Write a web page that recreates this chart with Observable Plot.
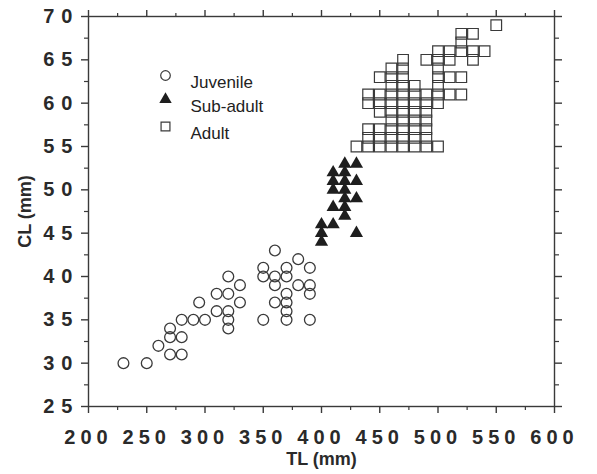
<!DOCTYPE html>
<html><head><meta charset="utf-8">
<script src="https://cdn.jsdelivr.net/npm/d3@7"></script>
<script src="https://cdn.jsdelivr.net/npm/@observablehq/plot@0.6"></script>
<style>
body{margin:0;background:#fff;}
#chart svg{font-family:"Liberation Sans",Arial,sans-serif;}
g[aria-label="x-axis tick label"] text{letter-spacing:5px;}
g[aria-label="y-axis tick label"] text{letter-spacing:7px;}
</style></head><body><div id="chart"></div>
<script>
// Juvenile
const juvenileTL = [230,250,260,270,270,270,280,280,280,290,300,295,310,310,320,320,320,320,320,330,330,350,350,350,360,360,360,360,370,370,370,370,370,370,380,380,390,390,390,390];
const juvenileCL = [30,30,32,34,33,31,33,31,35,35,35,37,38,36,40,38,36,35,34,39,37,35,41,40,43,40,39,37,41,40,38,37,36,35,42,39,41,39,38,35];
// Sub-adult
const subadultTL = [420,430,410,420,410,420,430,410,420,420,430,410,420,420,400,410,400,430,400];
const subadultCL = [53,53,52,52,51,51,51,50,50,49,49,48,48,47,46,46,45,45,44];
// Adult
const adultTL = [550,
  520,530,
  520,
  500,510,520,530,540,
  470,490,500,510,530,
  460,470,500,
  450,460,470,500,510,520,
  460,470,480,500,
  440,450,460,470,480,490,500,510,520,
  440,450,460,470,480,490,500,
  450,460,470,480,490,
  460,470,480,490,
  440,450,460,470,480,490,
  440,450,460,470,480,490,
  430,440,450,460,470,480,490,500];
const adultCL = [69,
  68,68,
  67,
  66,66,66,66,66,
  65,65,65,65,65,
  64,64,64,
  63,63,63,63,63,63,
  62,62,62,62,
  61,61,61,61,61,61,61,61,61,
  60,60,60,60,60,60,60,
  59,59,59,59,59,
  58,58,58,58,
  57,57,57,57,57,57,
  56,56,56,56,56,56,
  55,55,55,55,55,55,55,55];

const xDomain = [200, 600];
const yDomain = [25, 70];
const xMajor = [200,250,300,350,400,450,500,550,600];
const xMinor = [225,275,325,375,425,475,525,575];
const yMajor = [25,30,35,40,45,50,55,60,65,70];
const yMinor = [27.5,32.5,37.5,42.5,47.5,52.5,57.5,62.5,67.5];
const legendLabels = ["Juvenile","Sub-adult","Adult"];

const toRows = (tl, cl, group) => tl.map((t, i) => ({TL: t, CL: cl[i], group}));
const juvenile = toRows(juvenileTL, juvenileCL, legendLabels[0]);
const subadult = toRows(subadultTL, subadultCL, legendLabels[1]);
const adult = toRows(adultTL, adultCL, legendLabels[2]);

const ink = "#3a3a3a";
const fmt = d => String(d);

const legendMarks = [];
const legendSymbols = [
  {symbol: "circle", fill: "none", stroke: ink, r: 4.8},
  {symbol: "triangle", fill: "#1e1e1e", stroke: "none", r: 4.6},
  {symbol: "square", fill: "none", stroke: ink, r: 5.0}
];
const legendDy = [59, 83, 110];
legendLabels.forEach((lab, i) => {
  legendMarks.push(Plot.dot([lab], {frameAnchor: "top-left", dx: 77, dy: legendDy[i], symbol: legendSymbols[i].symbol, r: legendSymbols[i].r, fill: legendSymbols[i].fill, stroke: legendSymbols[i].stroke, strokeWidth: 1.2}));
  legendMarks.push(Plot.text([lab], {frameAnchor: "top-left", dx: 102, dy: legendDy[i], text: d => d, textAnchor: "start", fontSize: 17, fill: "#222"}));
});

const chart = Plot.plot({
  width: 597,
  height: 474,
  marginLeft: 88,
  marginRight: 43,
  marginTop: 16,
  marginBottom: 68,
  style: {background: "#fff", color: ink},
  x: {domain: xDomain},
  y: {domain: yDomain},
  marks: [
    Plot.frame({stroke: ink, strokeWidth: 1.4}),
    Plot.axisX(xMajor, {anchor: "bottom", tickSize: 7, tickPadding: 16, tickFormat: fmt, fontSize: 20, fontWeight: "bold", fill: "#2a2a2a", strokeWidth: 1.4, label: "TL (mm)", labelAnchor: "center", labelArrow: "none", labelOffset: 58}),
    Plot.axisX(xMinor, {anchor: "bottom", tickSize: 4, fill: "none", strokeWidth: 1.2}),
    Plot.axisX(xMajor, {anchor: "top", tickSize: 7, fill: "none", strokeWidth: 1.4}),
    Plot.axisX(xMinor, {anchor: "top", tickSize: 4, fill: "none", strokeWidth: 1.2}),
    Plot.axisY(yMajor, {anchor: "left", tickSize: 7, tickPadding: 2, tickFormat: fmt, fontSize: 20, fontWeight: "bold", fill: "#2a2a2a", strokeWidth: 1.4, label: "CL (mm)", labelAnchor: "center", labelArrow: "none", labelOffset: 70}),
    Plot.axisY(yMinor, {anchor: "left", tickSize: 4, fill: "none", strokeWidth: 1.2}),
    Plot.axisY(yMajor, {anchor: "right", tickSize: 7, fill: "none", strokeWidth: 1.4}),
    Plot.axisY(yMinor, {anchor: "right", tickSize: 4, fill: "none", strokeWidth: 1.2}),
    Plot.dot(juvenile, {x: "TL", y: "CL", symbol: "circle", r: 5.4, fill: "none", stroke: ink, strokeWidth: 1.3}),
    Plot.dot(subadult, {x: "TL", y: "CL", symbol: "triangle", r: 4.9, fill: "#1e1e1e", stroke: "none"}),
    Plot.dot(adult, {x: "TL", y: "CL", symbol: "square", r: 6.0, fill: "none", stroke: ink, strokeWidth: 1.2}),
    ...legendMarks
  ]
});
// bold axis titles
chart.querySelectorAll('g[aria-label="x-axis label"] text, g[aria-label="y-axis label"] text').forEach(t => { t.setAttribute("font-weight", "bold"); t.setAttribute("font-size", "18"); t.setAttribute("fill", "#2a2a2a"); });
document.getElementById("chart").appendChild(chart);
</script></body></html>
